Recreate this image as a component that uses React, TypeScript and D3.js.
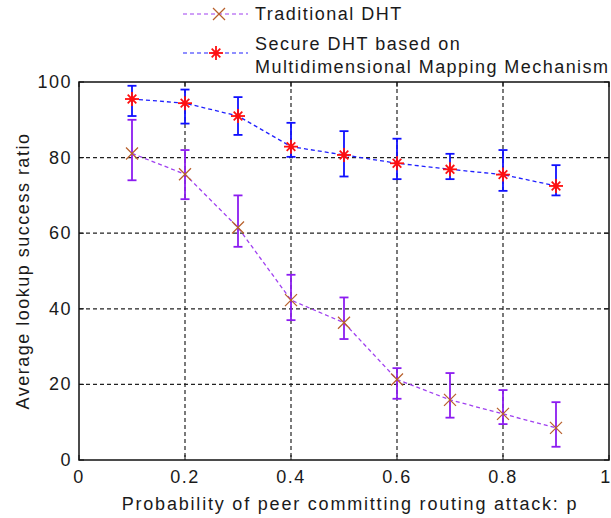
import * as d3 from "d3";
import React from "react";

const probs = [0.1, 0.2, 0.3, 0.4, 0.5, 0.6, 0.7, 0.8, 0.9];
const tradMean = [81.1, 75.6, 61.5, 42.3, 36.3, 21.3, 15.9, 12.2, 8.5];
const tradHigh = [90, 82, 70, 49, 43, 24.3, 23, 18.5, 15.3];
const tradLow = [74, 69, 56.4, 37, 32, 16.2, 11.2, 9.5, 3.5];
const secMean = [95.5, 94.4, 91, 82.9, 80.7, 78.5, 76.9, 75.5, 72.5];
const secHigh = [99, 98, 96, 89.2, 87, 85, 81, 82, 78];
const secLow = [91, 89, 86, 80.2, 75, 74.3, 74.3, 71.2, 70];
const xTickVals = [0, 0.2, 0.4, 0.6, 0.8, 1];
const yTickVals = [0, 20, 40, 60, 80, 100];

const FONT = "'Liberation Sans', Arial, Helvetica, sans-serif";

export default function App() {
  const width = 611;
  const height = 518;
  const margin = { left: 79, right: 2, top: 82, bottom: 58 };
  const plotW = width - margin.left - margin.right;
  const plotH = height - margin.top - margin.bottom;

  const x = d3.scaleLinear().domain([0, 1]).range([0, plotW]);
  const y = d3.scaleLinear().domain([0, 100]).range([plotH, 0]);

  const line = d3
    .line<number>()
    .x((d, i) => x(probs[i]))
    .y((d) => y(d));

  const series = [
    {
      label: "trad",
      mean: tradMean,
      high: tradHigh,
      low: tradLow,
      lineColor: "#a040f0",
      barColor: "#8c1cf0",
      markColor: "#b8602c",
      marker: "x",
    },
    {
      label: "sec",
      mean: secMean,
      high: secHigh,
      low: secLow,
      lineColor: "#2020ff",
      barColor: "#1010ff",
      markColor: "#ff1010",
      marker: "star",
    },
  ];

  const drawMarker = (kind: string, cx: number, cy: number, color: string, key: string) => {
    const r = 6;
    if (kind === "x") {
      return (
        <g key={key} stroke={color} strokeWidth={1.3}>
          <line x1={cx - r} y1={cy - r} x2={cx + r} y2={cy + r} />
          <line x1={cx - r} y1={cy + r} x2={cx + r} y2={cy - r} />
        </g>
      );
    }
    const d = r * 0.72;
    return (
      <g key={key} stroke={color} strokeWidth={1.8}>
        <line x1={cx - r - 1} y1={cy} x2={cx + r + 1} y2={cy} />
        <line x1={cx} y1={cy - r - 1} x2={cx} y2={cy + r + 1} />
        <line x1={cx - d} y1={cy - d} x2={cx + d} y2={cy + d} />
        <line x1={cx - d} y1={cy + d} x2={cx + d} y2={cy - d} />
        <circle cx={cx} cy={cy} r={2.5} fill={color} stroke="none" />
      </g>
    );
  };

  const textStyle = { letterSpacing: "1.5px" };

  return (
    <svg
      width={width}
      height={height}
      style={{ position: "absolute", left: 0, top: 0, background: "#fff" }}
      fontFamily={FONT}
    >
      {/* legend */}
      <g fontSize={18} fill="#1a1a1a" style={textStyle}>
        <line x1={183} y1={14} x2={248} y2={14} stroke="#a040f0" strokeWidth={1.2} strokeDasharray="4,3" />
        {drawMarker("x", 219, 14, "#b8602c", "lx")}
        <text x={255} y={20}>Traditional DHT</text>
        <line x1={183} y1={53} x2={248} y2={53} stroke="#2020ff" strokeWidth={1.2} strokeDasharray="4,3" />
        {drawMarker("star", 216, 53, "#ff1010", "ls")}
        <text x={255} y={50}>Secure DHT based on</text>
        <text x={255} y={73} style={{ letterSpacing: "1.45px" }}>Multidimensional Mapping Mechanism</text>
      </g>

      <g transform={`translate(${margin.left},${margin.top})`}>
        {/* grid */}
        <g stroke="#222" strokeWidth={1.2} strokeDasharray="4,3">
          {xTickVals.slice(1, -1).map((t) => (
            <line key={"gx" + t} x1={x(t)} x2={x(t)} y1={0} y2={plotH} />
          ))}
          {yTickVals.slice(1, -1).map((t) => (
            <line key={"gy" + t} x1={0} x2={plotW} y1={y(t)} y2={y(t)} />
          ))}
        </g>
        {/* box */}
        <rect x={0} y={0} width={plotW} height={plotH} fill="none" stroke="#111" strokeWidth={1.5} />
        {/* ticks */}
        <g stroke="#111" strokeWidth={1}>
          {xTickVals.map((t) => (
            <g key={"tx" + t}>
              <line x1={x(t)} x2={x(t)} y1={plotH} y2={plotH - 5} />
              <line x1={x(t)} x2={x(t)} y1={0} y2={5} />
            </g>
          ))}
          {yTickVals.map((t) => (
            <g key={"ty" + t}>
              <line x1={0} x2={5} y1={y(t)} y2={y(t)} />
              <line x1={plotW} x2={plotW - 5} y1={y(t)} y2={y(t)} />
            </g>
          ))}
        </g>
        <g fontSize={18} fill="#1a1a1a" style={textStyle}>
          {xTickVals.map((t) => (
            <text
              key={"lx" + t}
              x={t === 1 ? x(t) - 3 : x(t)}
              y={plotH + 23}
              textAnchor="middle"
            >
              {t}
            </text>
          ))}
          {yTickVals.map((t) => (
            <text key={"ly" + t} x={-7} y={y(t) + 6} textAnchor="end">
              {t}
            </text>
          ))}
        </g>

        {series.map((s) => (
          <g key={s.label}>
            <path
              d={line(s.mean) || ""}
              fill="none"
              stroke={s.lineColor}
              strokeWidth={1.3}
              strokeDasharray="4,3"
            />
            <g stroke={s.barColor} strokeWidth={1.8}>
              {probs.map((p, i) => (
                <g key={i}>
                  <line x1={x(p)} x2={x(p)} y1={y(s.high[i])} y2={y(s.low[i])} />
                  <line x1={x(p) - 4.5} x2={x(p) + 4.5} y1={y(s.high[i])} y2={y(s.high[i])} />
                  <line x1={x(p) - 4.5} x2={x(p) + 4.5} y1={y(s.low[i])} y2={y(s.low[i])} />
                </g>
              ))}
            </g>
            {probs.map((p, i) => drawMarker(s.marker, x(p), y(s.mean[i]), s.markColor, s.label + i))}
          </g>
        ))}
      </g>

      <g fontSize={18} fill="#1a1a1a" style={{ letterSpacing: "1.8px" }}>
        <text x={margin.left + plotW / 2 + 6} y={510} textAnchor="middle">
          Probability of peer committing routing attack: p
        </text>
        <text
          transform={`translate(29,${margin.top + plotH / 2}) rotate(-90)`}
          textAnchor="middle"
          style={{ letterSpacing: "1.5px" }}
        >
          Average lookup success ratio
        </text>
      </g>
    </svg>
  );
}
